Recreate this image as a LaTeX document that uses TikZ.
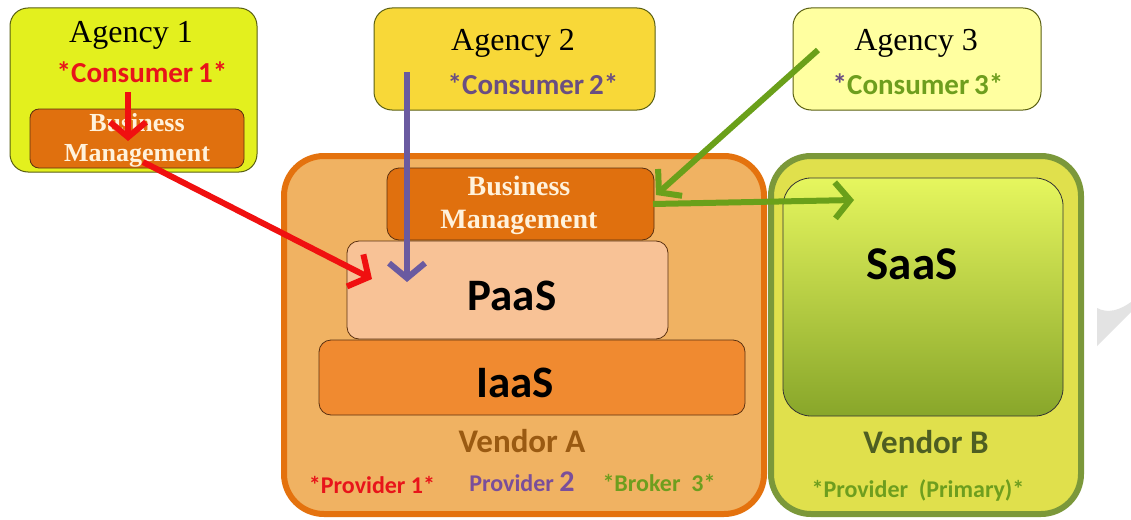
\documentclass[tikz,border=0pt]{standalone}
\usepackage{fontspec}
\setmainfont{Liberation Serif}
\newfontfamily\carlitofont{Carlito}
\usetikzlibrary{arrows.meta}
\definecolor{agAfill}{HTML}{E3F01E}
\definecolor{agAline}{HTML}{5A6012}
\definecolor{bmfill}{HTML}{E0700E}
\definecolor{bmline}{HTML}{5A3010}
\definecolor{agBfill}{HTML}{F8D838}
\definecolor{agCfill}{HTML}{FFFFA0}
\definecolor{vAfill}{HTML}{F0B262}
\definecolor{vAline}{HTML}{E4720E}
\definecolor{paasfill}{HTML}{F8C296}
\definecolor{iaasfill}{HTML}{F08A30}
\definecolor{vBfill}{HTML}{E0E04C}
\definecolor{vBline}{HTML}{7B983A}
\definecolor{saastop}{HTML}{E6F65E}
\definecolor{saasbot}{HTML}{88A62A}
\definecolor{cred}{HTML}{E8141A}
\definecolor{cpurple}{HTML}{7A4E9A}
\definecolor{cpurpleB}{HTML}{6A4E82}
\definecolor{cgreen}{HTML}{6E9E1E}
\definecolor{cbrown}{HTML}{9A5A12}
\definecolor{colive}{HTML}{4E5E22}
\definecolor{bmtext}{HTML}{FFF2DC}
\definecolor{ared}{HTML}{F01010}
\definecolor{apurple}{HTML}{6A5AA0}
\definecolor{agreen}{HTML}{6AA01A}
\begin{document}
\begin{tikzpicture}[x=1pt,y=-1pt,
  box/.style={rectangle, rounded corners=18pt, inner sep=0pt, line width=1pt},
  bigbox/.style={rectangle, rounded corners=40pt, inner sep=0pt, line width=6pt},
  layer/.style={rectangle, rounded corners=12pt, inner sep=0pt, line width=0.8pt, draw=bmline},
  agtext/.style={font=\fontsize{32}{33}\selectfont, inner sep=0pt},
  bmtxt/.style={font=\bfseries\fontsize{28}{33}\selectfont, text=bmtext, align=center, inner sep=0pt},
  lbl/.style={font=\carlitofont\bfseries\fontsize{29}{30}\selectfont, inner sep=0pt},
  small/.style={font=\carlitofont\bfseries\fontsize{24}{25}\selectfont, inner sep=0pt},
  huge/.style={font=\carlitofont\bfseries\fontsize{45}{46}\selectfont, inner sep=0pt},
  arr/.style={line width=6pt, -{Straight Barb[length=15pt,width=36pt]}}]
\useasboundingbox (0,0) rectangle (1131,519);
\fill[white] (0,0) rectangle (1131,519);
% page curl watermark
\fill[gray!22] (1097,308) .. controls (1108,314) and (1120,310) .. (1131,302) -- (1131,312) -- (1097,346) -- cycle;
% Vendor A
\node[bigbox, draw=vAline, fill=vAfill, minimum width=480pt, minimum height=358pt] (vA) at (524,335) {};
\node[layer, fill=iaasfill, minimum width=426pt, minimum height=75pt] (iaas) at (532,377.5) {};
\node[layer, fill=paasfill, minimum width=321pt, minimum height=98pt] (paas) at (507.5,290) {};
\node[layer, fill=bmfill, minimum width=267pt, minimum height=72pt] (bmA) at (520.5,204) {};
\node[bmtxt] (bmAt) at (519,205) {Business\\Management};
\node[huge] (paast) at (512,296) {PaaS};
\node[huge] (iaast) at (515,383) {IaaS};
\node[lbl, text=cbrown, font=\carlitofont\bfseries\fontsize{33}{34}\selectfont] (vAt) at (522,441) {Vendor A};
\node[small, text=cred] (p1) at (372,485) {*Provider\ 1*};
\node[small, text=cpurple] (p2) at (522,482) {Provider\ \fontsize{30}{31}\selectfont 2};
\node[small, text=cgreen] (b3) at (659,483) {*Broker\ \ 3*};
% Vendor B
\node[bigbox, draw=vBline, fill=vBfill, minimum width=310pt, minimum height=358pt] (vB) at (926,335) {};
\node[box, rounded corners=28pt, draw=black!80, line width=0.8pt, top color=saastop, bottom color=saasbot, minimum width=280pt, minimum height=238pt] (saas) at (923,297) {};
\node[huge, font=\carlitofont\bfseries\fontsize{47}{48}\selectfont] (saast) at (912,264) {SaaS};
\node[lbl, text=colive, font=\carlitofont\bfseries\fontsize{33}{34}\selectfont] (vBt) at (926,442) {Vendor B};
\node[small, text=cgreen] (pp) at (918,490) {*Provider\ \ (Primary)*};
% Agency 1
\node[box, draw=agAline, fill=agAfill, minimum width=247pt, minimum height=164pt] (ag1) at (133.5,90) {};
\node[agtext] (ag1t) at (131,35) {Agency 1};
\node[lbl, text=cred] (c1) at (142,72) {*Consumer\,1*};
\node[layer, rounded corners=9pt, fill=bmfill, minimum width=214pt, minimum height=59pt] (bm1) at (137,138.5) {};
\node[bmtxt, font=\bfseries\fontsize{26}{30}\selectfont] (bm1t) at (137,140) {Business\\Management};
% Agency 2
\node[box, draw=agAline, fill=agBfill, minimum width=281pt, minimum height=102pt] (ag2) at (514.5,59) {};
\node[agtext] (ag2t) at (513,43) {Agency 2};
\node[lbl, text=cpurpleB] (c2) at (533,84) {*Consumer\,2*};
% Agency 3
\node[box, draw=agAline, fill=agCfill, minimum width=248pt, minimum height=102pt] (ag3) at (917,59) {};
\node[agtext] (ag3t) at (916,43) {Agency 3};
\node[lbl, text=cgreen] (c3) at (918,84) {{\color{cpurpleB}*}Consumer\,3*};
% arrow end points
\coordinate (r1s) at (128,92);
\coordinate (r1e) at (128,141);
\coordinate (r2s) at (143,162);
\coordinate (r2e) at (372,279);
\coordinate (ps) at (407,72);
\coordinate (pe) at (407,282);
\coordinate (gs) at (818,50);
\coordinate (ge) at (656,195);
\coordinate (hs) at (653,204);
\coordinate (he) at (854,200);
\draw[arr, draw=ared] (r1s) -- (r1e);
\draw[arr, draw=ared] (r2s) -- (r2e);
\draw[arr, draw=apurple] (ps) -- (pe);
\draw[arr, draw=agreen] (gs) -- (ge);
\draw[arr, draw=agreen] (hs) -- (he);
\end{tikzpicture}
\end{document}
